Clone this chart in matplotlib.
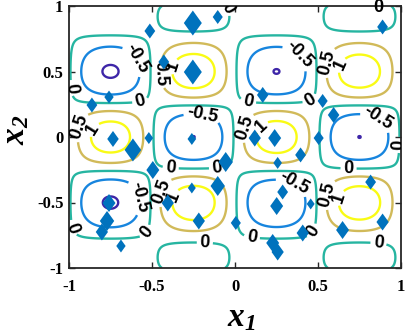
import numpy as np
import matplotlib
matplotlib.use('Agg')
import matplotlib.pyplot as plt

plt.rcParams['font.family'] = ['Liberation Sans', 'DejaVu Sans']
plt.rcParams['font.weight'] = 'bold'
plt.rcParams['axes.unicode_minus'] = False
plt.rcParams['mathtext.fontset'] = 'custom'
plt.rcParams['mathtext.it'] = 'Liberation Serif:italic:bold'
plt.rcParams['mathtext.rm'] = 'Liberation Serif:italic:bold'
plt.rcParams['contour.negative_linestyle'] = 'solid'

# ---- contour levels and colours (parula) ----
levels = [-1.0, -0.5, 0.0, 0.5, 1.0]
level_colors = [(0.2422, 0.1504, 0.6603), (0.09, 0.52, 0.87),
                (0.15, 0.71, 0.63), (0.82, 0.73, 0.35), (0.977, 0.984, 0.081)]

# ---- surface description ----
surface_coeffs = [0.075, 1.363, 0.093, -0.174]   # response to cell pattern
row_warp = 0.13          # stretch of rows toward x2 = +-1
edge_drop = 0.75         # amplitude fading toward x2 = +-1
mid_drop = 0.03
# per-cell strength corrections (cell centre x1, x2, change)
cell_x1 = [-0.75, 0.25, -0.75, 0.25, 0.75, -0.75, 0.75, 0.25, 0.75]
cell_x2 = [0.5, 0.5, -0.5, -0.5, 0.0, 0.0, 0.5, 0.0, -0.5]
cell_adj = [0.03, -0.013, 0.025, -0.03, 0.0, -0.06, -0.04, -0.03, -0.03]

# ---- sample points (diamonds): x1, x2, size (px height) ----
pts_x1 = [-0.513, -0.254, -0.104, -0.429, -0.254, -0.759, -0.862, 0.167, 0.889, 0.528,
          0.594, 0.504, -0.735, -0.615, -0.519, -0.495, -0.759, -0.771, -0.802, -0.687,
          -0.405, -0.260, -0.218, -0.104, -0.056, 0.005, -0.260, 0.119, 0.239, 0.395,
          0.257, 0.287, 0.251, 0.456, 0.408, 0.227, 0.257, 0.817, 0.889, 0.648]
pts_x2 = [0.809, 0.870, 0.916, 0.573, 0.496, 0.305, 0.244, 0.321, 0.840, 0.275,
          0.168, -0.008, -0.015, -0.099, -0.008, -0.252, -0.504, -0.641, -0.725, -0.832,
          -0.504, -0.389, -0.641, -0.374, -0.191, -0.656, -0.015, -0.008, -0.008, -0.137,
          -0.198, -0.420, -0.527, -0.511, -0.733, -0.809, -0.878, -0.344, -0.649, -0.710]
pts_size = [15, 25, 14, 15, 25, 13, 15, 16, 15, 14,
            16, 14, 16, 23, 12, 18, 18, 20, 17, 13,
            17, 11, 17, 20, 20, 14, 12, 17, 18, 15,
            12, 15, 18, 11, 17, 18, 17, 15, 17, 18]

# ---- contour label positions ----
label_pos = {
    0.0: [(-0.056, 0.975), (-0.573, 0.282), (-0.982, 0.374),
          (0.083, 0.298), (0.444, 0.305), (-0.386, -0.214), (-0.110, -0.214),
          (-0.552, -0.71), (-0.982, -0.695), (0.684, -0.237), (0.468, -0.718),
          (0.101, -0.771), (-0.182, -0.817), (0.865, -0.802), (0.991, -0.061)],
    -0.5: [(-0.639, 0.565), (0.341, 0.573), (0.835, 0.076), (-0.212, 0.053),
           (-0.645, -0.473), (0.329, -0.427)],
    0.5: [(-0.441, 0.489), (0.576, 0.565), (-0.910, 0.069), (0.077, 0.069),
          (-0.429, -0.420), (0.576, -0.443)],
    1.0: [(-0.380, 0.542), (0.636, 0.550), (-0.838, 0.046), (0.179, 0.053),
          (-0.362, -0.458), (0.636, -0.466)],
}
edge_label_pos = (0.865, 0.985)   # "0" label sitting on the top border

ticks = [-1, -0.5, 0, 0.5, 1]
tick_labels = ['-1', '-0.5', '0', '0.5', '1']

fig = plt.figure(figsize=(4.07, 3.33), dpi=100)
ax = fig.add_axes([69/407, 65/333, 332/407, 262/333])

g = np.linspace(-1, 1, 401)
X1, X2 = np.meshgrid(g, g)
W2 = X2 - row_warp * X2**5
E = 1 - edge_drop * np.abs(X2)**6 - mid_drop * np.cos(np.pi * X2)**2
for cx, cy, d in zip(cell_x1, cell_x2, cell_adj):
    E = E + d * np.exp(-((X1 - cx)**2 + (X2 - cy)**2) / (2 * 0.13**2))
P = E * np.sin(2*np.pi*X1) * np.cos(2*np.pi*W2)
c0, c1, c2, c3 = surface_coeffs
F = c0 + c1*P + c2*P**2 + c3*P**3

for lev, col in zip(levels, level_colors):
    cs = ax.contour(X1, X2, F, levels=[lev], colors=[col], linewidths=1.7,
                    linestyles='solid', zorder=2)
    if lev in label_pos:
        ax.clabel(cs, manual=label_pos[lev], inline=True, fmt='%g',
                  fontsize=13, inline_spacing=3, colors='k')

ax.text(edge_label_pos[0], edge_label_pos[1], '0', fontsize=13, color='k',
        ha='center', va='center', zorder=3)

diamond = [(0, 1), (0.72, 0), (0, -1), (-0.72, 0)]
ax.scatter(pts_x1, pts_x2, s=(np.array(pts_size)*0.72)**2, marker=diamond,
           c='#0072BD', linewidths=0, zorder=4)

ax.set_xlim(-1, 1)
ax.set_ylim(-1, 1)
ax.set_xticks(ticks)
ax.set_xticklabels(tick_labels)
ax.set_yticks(ticks)
ax.set_yticklabels(tick_labels)
ax.tick_params(direction='in', top=True, right=True, length=4, width=1,
               color='#262626', labelsize=12, labelfontfamily='Liberation Serif')
ax.tick_params(axis='x', pad=8)
ax.tick_params(axis='y', pad=4)
for lab in ax.get_xticklabels() + ax.get_yticklabels():
    lab.set_fontweight('bold')
for sp in ax.spines.values():
    sp.set_linewidth(1.3)
    sp.set_color('#262626')

ax.set_xlabel('$x_1$', fontsize=24)
ax.set_ylabel('$x_2$', fontsize=24)
ax.xaxis.set_label_coords(0.518, -0.19)
ax.xaxis.label.set_va('center')
ax.yaxis.set_label_coords(-0.16, 0.527)
ax.yaxis.label.set_va('center')

fig.savefig('out.png', dpi=100)
